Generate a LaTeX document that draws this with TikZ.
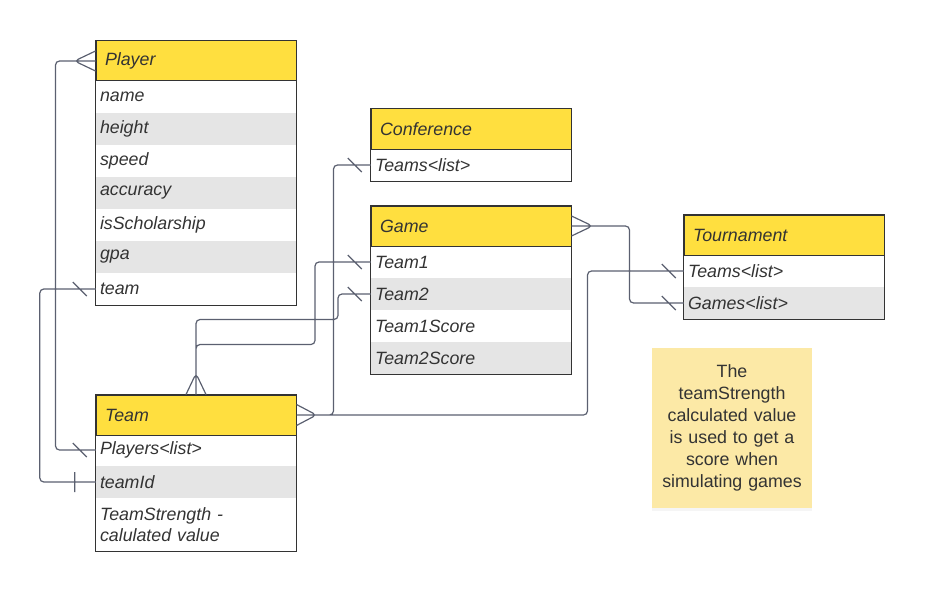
\documentclass[tikz,border=0pt]{standalone}
\usepackage{fontspec}
\setmainfont{Liberation Sans}
\usetikzlibrary{shadows}

\definecolor{headyellow}{HTML}{FFDF3F}
\definecolor{rowgray}{HTML}{E5E5E5}
\definecolor{boxline}{HTML}{333333}
\definecolor{linkgray}{HTML}{5B6070}
\definecolor{notefill}{HTML}{FCE9A6}
\definecolor{txtgray}{HTML}{333333}

\tikzset{
  head/.style={draw=boxline, line width=1pt, fill=headyellow, minimum height=40pt,
               text width=182pt, inner xsep=9pt, align=left, text=txtgray,
               font=\fontsize{17.8}{21.5}\selectfont\itshape},
  row/.style={minimum height=32pt, text width=192pt, inner xsep=4pt, align=left,
              text=txtgray, font=\fontsize{17.8}{21.5}\selectfont\itshape},
  grayrow/.style={row, fill=rowgray},
  link/.style={draw=linkgray, line width=1.2pt, rounded corners=4pt},
}

\begin{document}
\begin{tikzpicture}[x=1pt, y=-1pt]
  \useasboundingbox (0,0) rectangle (925,591);
  \path node (Ph)     at (196, 61) [head]    {Player}
        node (Pname)  at (196, 97) [row]     {name}
        node (Phgt)   at (196,129) [grayrow] {height}
        node (Pspd)   at (196,161) [row]     {speed}
        node (Pacc)   at (196,193) [grayrow] {accuracy}
        node (Pschol) at (196,225) [row]     {isScholarship}
        node (Pgpa)   at (196,257) [grayrow] {gpa}
        node (Pteam)  at (196,289) [row]     {team}
        %
        node (Th)     at (196,415) [head]    {Team}
        node (Tpl)    at (196,450) [row]     {Players<list>}
        node (Tid)    at (196,482) [grayrow] {teamId}
        node (Tstr)   at (196,524.5) [row, minimum height=53pt] {TeamStrength -\\calulated value}
        %
        node (Ch)     at (471,129) [head]    {Conference}
        node (Cteams) at (471,165) [row]     {Teams<list>}
        %
        node (Gh)     at (471,226) [head]    {Game}
        node (Gt1)    at (471,262) [row]     {Team1}
        node (Gt2)    at (471,294) [grayrow] {Team2}
        node (Gs1)    at (471,326) [row]     {Team1Score}
        node (Gs2)    at (471,358) [grayrow] {Team2Score}
        %
        node (Uh)     at (784,235) [head]    {Tournament}
        node (Uteams) at (784,271) [row]     {Teams<list>}
        node (Ugames) at (784,303) [grayrow] {Games<list>}
        %
        node (note)   at (732,428) [fill=notefill, minimum width=160pt, minimum height=160pt,
                                    text width=150pt, align=center, text=txtgray,
                                    font=\fontsize{17.8}{22}\selectfont,
                                    drop shadow={shadow xshift=0pt, shadow yshift=-3pt, opacity=0.08}]
                      {The\\teamStrength\\calculated value\\is used to get a\\score when\\simulating games};
  % table outlines
  \draw[boxline, line width=1pt]
        (Ph.north west) rectangle (Pteam.south east)
        (Th.north west) rectangle (Tstr.south east)
        (Ch.north west) rectangle (Cteams.south east)
        (Gh.north west) rectangle (Gs2.south east)
        (Uh.north west) rectangle (Ugames.south east);
  % relations
  \draw[link] (Ph.west) -- ++(-40,0) |- (Tpl.west)
        ([yshift=10pt]Ph.west) -- ([xshift=-21pt]Ph.west) -- ([yshift=-10pt]Ph.west)
        ([shift={(-23pt,7pt)}]Tpl.west) -- ++(14pt,-14pt)
        %
        (Pteam.west) -- ++(-56,0) |- (Tid.west)
        ([shift={(-23pt,7pt)}]Pteam.west) -- ++(14pt,-14pt)
        ([shift={(-21pt,10pt)}]Tid.west) -- ++(0pt,-20pt)
        %
        (Th.north) -- ++(0,-75) -- ++(142,0) |- (Gt2.west)
        (Th.north) -- ++(0,-50) -- ++(119,0) |- (Gt1.west)
        ([xshift=-10pt]Th.north) -- ([yshift=21pt]Th.north) -- ([xshift=10pt]Th.north)
        ([shift={(-23pt,7pt)}]Gt1.west) -- ++(14pt,-14pt)
        ([shift={(-23pt,7pt)}]Gt2.west) -- ++(14pt,-14pt)
        %
        (Th.east) -- ++(37,0) |- (Cteams.west)
        (Th.east) -- ++(291,0) |- (Uteams.west)
        ([yshift=10.5pt]Th.east) -- ([xshift=20pt]Th.east) -- ([yshift=-10.5pt]Th.east)
        ([shift={(-23pt,7pt)}]Cteams.west) -- ++(14pt,-14pt)
        ([shift={(-22pt,7pt)}]Uteams.west) -- ++(14pt,-14pt)
        %
        (Gh.east) -- ++(58,0) |- (Ugames.west)
        ([yshift=10pt]Gh.east) -- ([xshift=21pt]Gh.east) -- ([yshift=-10pt]Gh.east)
        ([shift={(-22pt,7pt)}]Ugames.west) -- ++(14pt,-14pt);
\end{tikzpicture}
\end{document}
